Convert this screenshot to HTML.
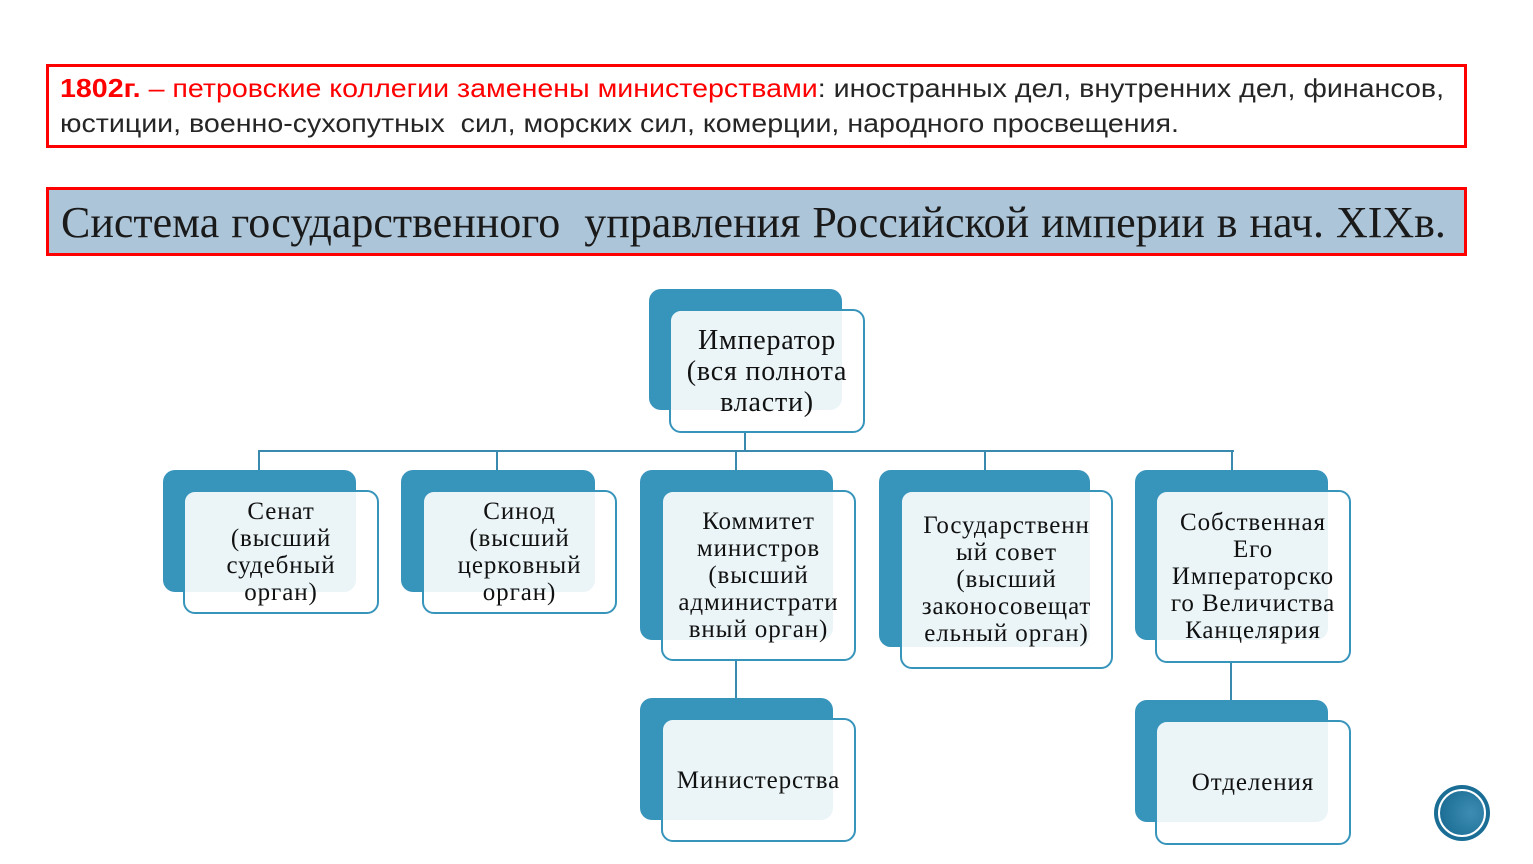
<!DOCTYPE html>
<html><head><meta charset="utf-8"><style>
body{margin:0;width:1533px;height:864px;background:#fff;position:relative;overflow:hidden;font-family:"Liberation Sans",sans-serif}
.top{position:absolute;left:46px;top:64px;width:1415px;height:78px;border:3px solid #f00;box-sizing:content-box}
.top div{position:absolute;left:11px;font-size:26px;color:#262626;white-space:nowrap;transform:scaleX(1.1);transform-origin:0 0}
.title{position:absolute;left:46px;top:187px;width:1403px;height:63px;border:3px solid #f00;background:#adc5d8;font-family:"Liberation Serif",serif;font-size:44px;color:#1a1a1a;line-height:66px;padding-left:12px;box-sizing:content-box;white-space:nowrap;word-spacing:1px}
.b{position:absolute;background:#3794bb;border-radius:12px}
.f{position:absolute;background:rgba(255,255,255,0.9);border:2px solid #3794bb;border-radius:12px;box-sizing:border-box;display:flex;align-items:center;justify-content:center;text-align:center;font-family:"Liberation Serif","DejaVu Serif",serif;font-size:25px;letter-spacing:0.9px;line-height:27px;color:#111;white-space:nowrap}
.l{position:absolute;background:#3a8ab0}
</style></head><body>
<div class="top">
<div style="top:6px"><span style="color:#f00;font-weight:bold">1802г.</span><span style="color:#f00"> – петровские коллегии заменены министерствами</span>: иностранных дел, внутренних дел, финансов,</div>
<div style="top:41px">юстиции, военно-сухопутных&nbsp; сил, морских сил, комерции, народного просвещения.</div>
</div>
<div class="title">Система государственного&nbsp; управления Российской империи в нач. XIXв.</div>

<div class="l" style="left:744px;top:433px;width:2px;height:18px"></div>
<div class="l" style="left:258px;top:450px;width:976px;height:2px"></div>
<div class="l" style="left:258px;top:450px;width:2px;height:20px"></div>
<div class="l" style="left:496px;top:450px;width:2px;height:20px"></div>
<div class="l" style="left:735px;top:450px;width:2px;height:20px"></div>
<div class="l" style="left:984px;top:450px;width:2px;height:20px"></div>
<div class="l" style="left:1231px;top:450px;width:2px;height:20px"></div>
<div class="l" style="left:735px;top:661px;width:2px;height:37px"></div>
<div class="l" style="left:1230px;top:663px;width:2px;height:37px"></div>

<div class="b" style="left:649px;top:289px;width:193px;height:121px"></div>
<div class="f" style="left:669px;top:309px;width:196px;height:124px;font-size:28px;letter-spacing:0.8px;line-height:31px">Император<br>(вся полнота<br>власти)</div>

<div class="b" style="left:163px;top:470px;width:193px;height:122px"></div>
<div class="f" style="left:183px;top:490px;width:196px;height:124px">Сенат<br>(высший<br>судебный<br>орган)</div>

<div class="b" style="left:401px;top:470px;width:194px;height:122px"></div>
<div class="f" style="left:422px;top:490px;width:195px;height:124px">Синод<br>(высший<br>церковный<br>орган)</div>

<div class="b" style="left:640px;top:470px;width:193px;height:170px"></div>
<div class="f" style="left:661px;top:490px;width:195px;height:171px">Коммитет<br>министров<br>(высший<br>администрати<br>вный орган)</div>

<div class="b" style="left:879px;top:470px;width:211px;height:177px"></div>
<div class="f" style="left:900px;top:490px;width:213px;height:179px">Государственн<br>ый совет<br>(высший<br>законосовещат<br>ельный орган)</div>

<div class="b" style="left:1135px;top:470px;width:193px;height:170px"></div>
<div class="f" style="left:1155px;top:490px;width:196px;height:173px">Собственная<br>Его<br>Императорско<br>го Величиства<br>Канцелярия</div>

<div class="b" style="left:640px;top:698px;width:193px;height:122px"></div>
<div class="f" style="left:661px;top:718px;width:195px;height:124px">Министерства</div>

<div class="b" style="left:1135px;top:700px;width:193px;height:122px"></div>
<div class="f" style="left:1155px;top:720px;width:196px;height:125px">Отделения</div>

<div style="position:absolute;left:1434px;top:785px;width:56px;height:56px;border-radius:50%;background:#1a6e96"></div>
<div style="position:absolute;left:1438px;top:789px;width:48px;height:48px;border-radius:50%;border:2px solid #fff;box-sizing:border-box;background:radial-gradient(circle at 70% 50%,#3d8db3,#15678f)"></div>
</body></html>
